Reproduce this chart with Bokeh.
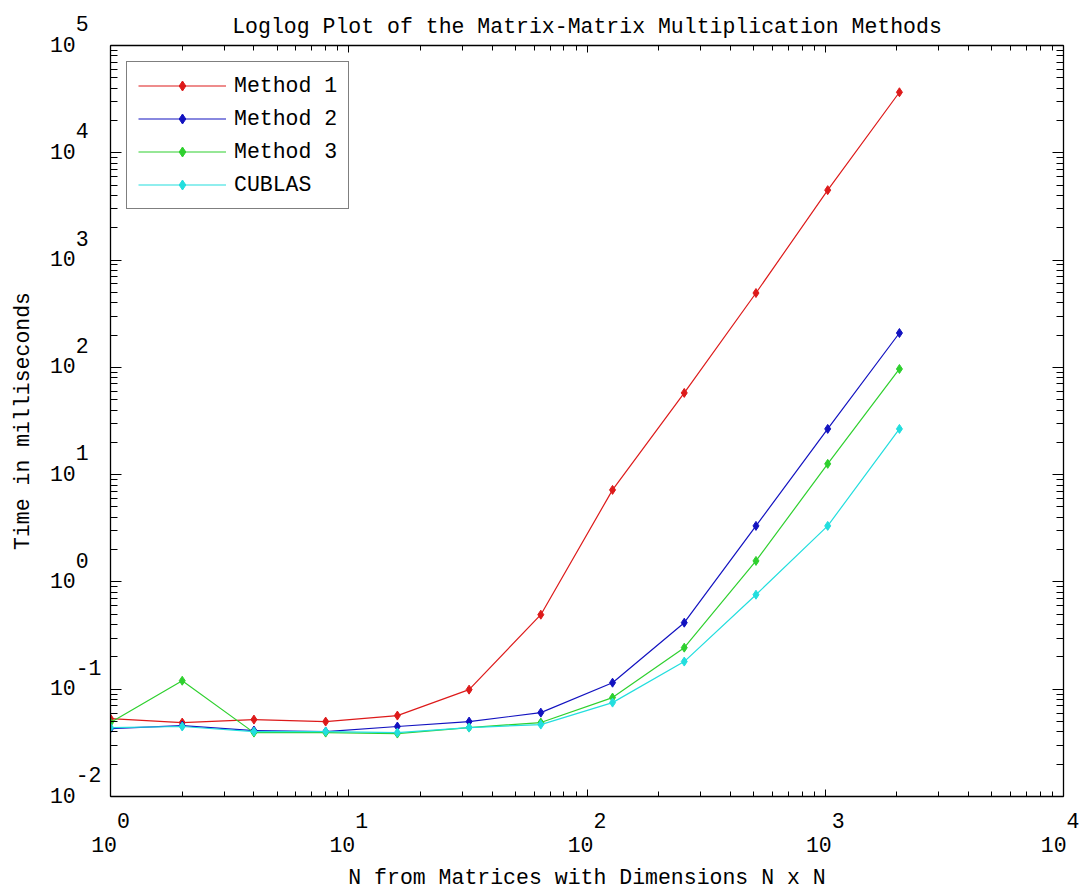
from bokeh.plotting import figure
from bokeh.models import (LogAxis, FixedTicker, Range1d, Legend, LegendItem,
                          CustomJSTickFormatter)
from bokeh.embed import file_html
from bokeh.resources import INLINE

# ---- data ----
n_values = [1, 2, 4, 8, 16, 32, 64, 128, 256, 512, 1024, 2048]
method1 = [0.0532, 0.0489, 0.0521, 0.0499, 0.0568, 0.0991, 0.495, 7.21, 57.8, 493, 4487, 36660]
method2 = [0.0430, 0.0458, 0.0412, 0.0403, 0.0449, 0.0499, 0.0605, 0.115, 0.417, 3.33, 26.7, 209]
method3 = [0.0489, 0.120, 0.0394, 0.0394, 0.0386, 0.0439, 0.0489, 0.0836, 0.244, 1.57, 12.6, 96.6]
cublas = [0.0439, 0.0449, 0.0403, 0.0403, 0.0394, 0.0439, 0.0468, 0.0750, 0.181, 0.760, 3.33, 26.7]

series_names = ["Method 1", "Method 2", "Method 3", "CUBLAS"]
series_values = [method1, method2, method3, cublas]
series_colors = ["#dd1a1a", "#1212c0", "#2ed02e", "#22dede"]

x_tick_exponents = [0, 1, 2, 3, 4]
y_tick_exponents = [-2, -1, 0, 1, 2, 3, 4, 5]
tick_base = "10"

title_text = "Loglog Plot of the Matrix-Matrix Multiplication Methods"
x_label = "N from Matrices with Dimensions N x N"
y_label = "Time in milliseconds"

FONT = "Liberation Mono"
FS = "21.5px"

p = figure(width=1079, height=892, x_axis_type="log", y_axis_type="log",
           x_range=Range1d(10 ** x_tick_exponents[0], 10 ** x_tick_exponents[-1]),
           y_range=Range1d(10 ** y_tick_exponents[0], 10 ** y_tick_exponents[-1]),
           output_backend="svg", toolbar_location=None,
           min_border_left=110, min_border_right=16, min_border_top=45, min_border_bottom=95,
           title=title_text)
p.background_fill_color = "white"
p.border_fill_color = "white"
p.outline_line_color = None
p.grid.visible = False

p.title.text_font = FONT
p.title.text_font_size = FS
p.title.text_font_style = "normal"
p.title.align = "center"
p.title.text_color = "black"
p.title.standoff = 13


def make_ticker(exps):
    major = [10.0 ** k for k in exps]
    minor = [m * 10.0 ** k for k in exps[:-1] for m in range(2, 10)]
    return FixedTicker(ticks=major, minor_ticks=minor)


def style_axis(ax, exps, major_len, minor_len):
    ax.ticker = make_ticker(exps)
    ax.formatter = CustomJSTickFormatter(code="return ''")
    ax.major_tick_in = major_len
    ax.major_tick_out = 0
    ax.minor_tick_in = minor_len
    ax.minor_tick_out = 0
    ax.axis_line_color = "black"
    ax.axis_line_width = 1.3
    ax.major_tick_line_color = "black"
    ax.minor_tick_line_color = "black"
    ax.major_label_standoff = 0
    ax.major_label_text_font = FONT
    ax.major_label_text_font_size = FS
    ax.major_label_text_color = "black"
    ax.axis_label_text_font = FONT
    ax.axis_label_text_font_size = FS
    ax.axis_label_text_font_style = "normal"
    ax.axis_label_text_color = "black"


xa = p.xaxis[0]
ya = p.yaxis[0]
style_axis(xa, x_tick_exponents, 7, 5)
style_axis(ya, y_tick_exponents, 11, 7)

# MATLAB-style labels: base "10" with the exponent raised to its upper right
NB = "\\u00a0"
xa.formatter = CustomJSTickFormatter(args=dict(base=tick_base), code=(
    "const k = String(Math.round(Math.log10(tick)));"
    f"return '{NB}{NB}' + k + '\\n' + base + '{NB}';"))
xa.major_label_text_line_height = 1.0
xa.major_label_standoff = 13
xa.axis_label = x_label
xa.axis_label_standoff = 5

ya.formatter = CustomJSTickFormatter(args=dict(base=tick_base), code=(
    "const k = String(Math.round(Math.log10(tick)));"
    f"const e = k.length < 2 ? k + '{NB}' : k;"
    f"return '{NB}{NB}' + e + '\\n' + base + '{NB}{NB}' + '\\n{NB}';"))
ya.major_label_text_line_height = 0.85
ya.major_label_standoff = 9
ya.axis_label = y_label
ya.axis_label_standoff = 12

top_ax = LogAxis()
style_axis(top_ax, x_tick_exponents, 7, 5)
p.add_layout(top_ax, "above")
right_ax = LogAxis()
style_axis(right_ax, y_tick_exponents, 11, 7)
p.add_layout(right_ax, "right")

# ---- series ----
items = []
for name, vals, col in zip(series_names, series_values, series_colors):
    r1 = p.line(n_values, vals, line_color=col, line_width=1.2)
    r2 = p.scatter(n_values, vals, marker="diamond", size=9, fill_color=col, line_color=col)
    items.append(LegendItem(label=name, renderers=[r1, r2]))

legend = Legend(items=items, location="top_left", margin=16, padding=11, spacing=8,
                glyph_width=88, glyph_height=25, label_height=25, label_standoff=8,
                label_text_font=FONT, label_text_font_size=FS, label_text_color="black",
                border_line_color="black", border_line_width=1.2,
                background_fill_color="white", background_fill_alpha=1)
p.add_layout(legend)

open("out.html", "w").write(file_html(p, INLINE))
